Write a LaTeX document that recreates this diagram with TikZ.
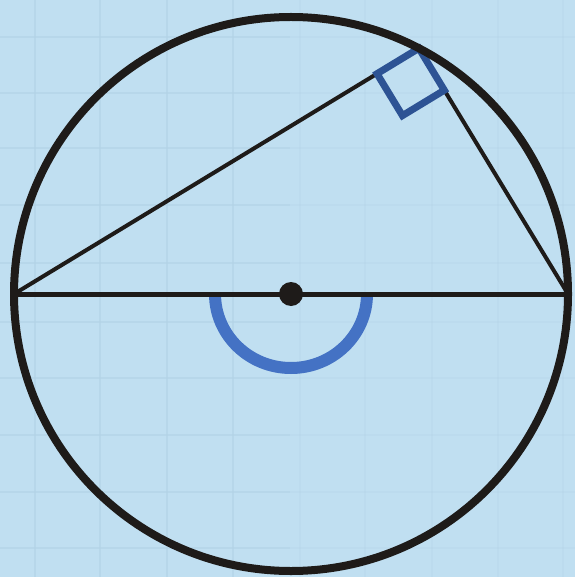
\documentclass[tikz,border=0pt]{standalone}
\usetikzlibrary{calc}
\definecolor{bg}{HTML}{C0DFF1}
\definecolor{gridc}{HTML}{B2D3E6}
\definecolor{ink}{HTML}{1E1B19}
\definecolor{sqblue}{HTML}{2D5394}
\definecolor{arcblue}{HTML}{4472C4}
\tikzset{
  circ/.style={draw=ink, line width=8pt},
  chord/.style={draw=ink, line width=4pt},
  diam/.style={draw=ink, line width=5pt},
  rightmark/.style={draw=sqblue, line width=7pt, line join=miter},
  anglearc/.style={draw=arcblue, line width=12pt},
  gridline/.style={draw=gridc, line width=2pt},
}
\begin{document}
\begin{tikzpicture}[x=1pt,y=-1pt]
\fill[bg] (0,0) rectangle (575,577);
\useasboundingbox (0,0) rectangle (575,577);
% faint grid, fading to the right
\foreach \gx in {35,100,167,233} \draw[gridline, opacity=0.6] (\gx,0) -- (\gx,577);
\foreach \gx in {300,365,432,498,563} \draw[gridline, opacity=0.25] (\gx,0) -- (\gx,577);
\foreach \gy in {37,93,148,205,263,322,378,435,492,548} {
  \draw[gridline, opacity=0.6] (0,\gy) -- (290,\gy);
  \draw[gridline, opacity=0.25] (290,\gy) -- (575,\gy);
}
% key points
\coordinate (O) at (291,294);
\coordinate (A) at ($(O)+(-277,0)$);
\coordinate (B) at ($(O)+(277,0)$);
\coordinate (C) at ($(O)+({277*cos(62.5)},{-277*sin(62.5)})$);
% blue angle arc
\draw[anglearc] ($(O)+(-76,0)$) arc[start angle=180, end angle=360, radius=76, y radius=-74];
% diameter and chords
\draw[diam] (A) -- (B);
\draw[chord] (A) -- (C) -- (B);
% right angle marker
\coordinate (u1) at ($(C)!49pt!(A)$);
\coordinate (u2) at ($(C)!49pt!(B)$);
\draw[rightmark] (C) -- (u1) -- ($(u1)+(u2)-(C)$) -- (u2) -- cycle;
% circle
\draw[circ] (O) circle[radius=277];
% centre dot
\fill[ink] (O) circle[radius=12];
\end{tikzpicture}
\end{document}
